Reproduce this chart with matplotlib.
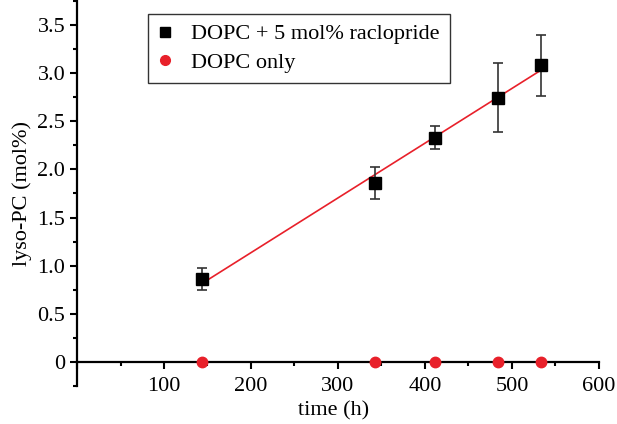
import numpy as np
import matplotlib.pyplot as plt
from matplotlib.lines import Line2D
from matplotlib.ticker import MultipleLocator, FuncFormatter

plt.rcParams['font.family'] = ['Liberation Serif', 'DejaVu Serif']

# data
time_h = [144, 342, 411, 484, 533]
lyso_racl = [0.86, 1.86, 2.33, 2.745, 3.08]
lyso_racl_err = [0.115, 0.165, 0.12, 0.36, 0.32]
lyso_only = [0, 0, 0, 0, 0]
labels = ['DOPC + 5 mol% raclopride', 'DOPC only']

red = '#e8202a'

fig = plt.figure(figsize=(6.17, 4.24), dpi=100)
ax = fig.add_axes([0.1248, 0.0896, 0.8460, 0.9104])

# linear fit through the raclopride series
slope, icpt = np.polyfit(time_h, lyso_racl, 1)
xf = np.array([min(time_h), max(time_h)])
ax.plot(xf, slope * xf + icpt, color=red, lw=1.2, zorder=2)

ax.errorbar(time_h, lyso_racl, yerr=lyso_racl_err, fmt='s', color='black',
            ms=8, ecolor='#333333', elinewidth=1.2, capsize=3.5, capthick=1.2,
            zorder=3)
ax.plot(time_h, lyso_only, 'o', color=red, ms=7.5, clip_on=False, zorder=5)

ax.set_xlim(0, 600)
ax.set_ylim(-0.25, 3.76)

ax.spines['top'].set_visible(False)
ax.spines['right'].set_visible(False)
ax.spines['bottom'].set_position(('data', 0))
ax.spines['left'].set_linewidth(1.6)
ax.spines['bottom'].set_linewidth(1.6)

ax.xaxis.set_major_locator(MultipleLocator(100))
ax.xaxis.set_minor_locator(MultipleLocator(50))
ax.yaxis.set_major_locator(MultipleLocator(0.5))
ax.yaxis.set_minor_locator(MultipleLocator(0.25))
ax.xaxis.set_major_formatter(FuncFormatter(lambda v, p: '' if v == 0 else f'{v:.0f}'))
ax.yaxis.set_major_formatter(FuncFormatter(lambda v, p: '0' if v == 0 else f'{v:.1f}'))

ax.tick_params(which='major', direction='out', length=5, width=1.5, labelsize=16)
ax.tick_params(which='minor', direction='out', length=3, width=1.5)
ax.tick_params(axis='x', pad=6)

ax.set_xlabel('time (h)', fontsize=16, labelpad=0)
ax.set_ylabel('lyso-PC (mol%)', fontsize=16, labelpad=4)
ax.xaxis.set_label_coords(0.492, -0.04)

handles = [Line2D([], [], ls='none', marker='s', color='black', ms=7),
           Line2D([], [], ls='none', marker='o', color=red, ms=7)]
leg = ax.legend(handles, labels, loc='upper left', bbox_to_anchor=(0.136, 0.964),
                borderaxespad=0, fontsize=16, frameon=True, fancybox=False,
                handlelength=0.6, handletextpad=0.9, borderpad=0.45,
                labelspacing=0.35)
leg.get_frame().set_edgecolor('black')
leg.get_frame().set_linewidth(1.0)

fig.savefig('out.png', dpi=100)
